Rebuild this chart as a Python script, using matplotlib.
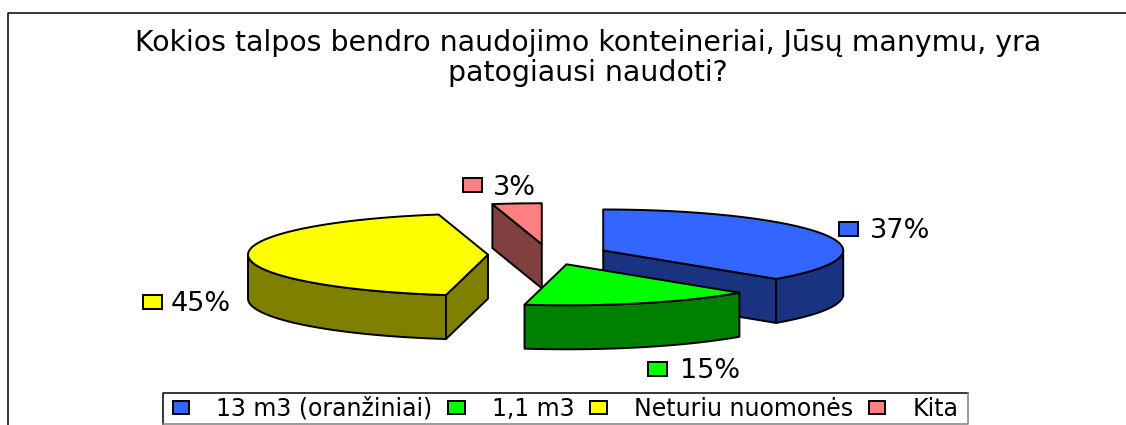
import numpy as np
from matplotlib import pyplot as plt
from matplotlib.patches import Patch, Polygon, Rectangle

title = "Kokios talpos bendro naudojimo konteineriai, Jūsų manymu, yra\npatogiausi naudoti?"
categories = ["13 m3 (oranžiniai)", "1,1 m3", "Neturiu nuomonės", "Kita"]
values = [37.2, 15.6, 43.9, 3.3]
labels = ["37%", "15%", "45%", "3%"]
top_colors = ["#3366FF", "#00FF00", "#FFFF00", "#FF8080"]
side_colors = ["#1A3380", "#008000", "#808000", "#804040"]

# the picture is laid out in pixels
W, H = 1126, 425
FONT = "DejaVu Sans"
LW = 1.4
CX, CY = 548, 254.5
RX, RY = 240, 41
EX, EY = 60, 10.3
DEPTH = 44

fig = plt.figure(figsize=(W / 100, H / 100), dpi=100)
ax = fig.add_axes([0, 0, 1, 1])
ax.set_xlim(0, W)
ax.set_ylim(H, 0)
ax.axis("off")

# frame of the chart, cut off by the picture on right and bottom
ax.plot([8, 8, W], [H, 12.5, 12.5], color="black", lw=1.1)

ax.text(588, 58, title, ha="center", va="center", fontsize=20.4, family=FONT,
        linespacing=1.12)


def arc(ax0, ay0, a0, a1, n=80):
    t = np.radians(np.linspace(a0, a1, n))
    return np.column_stack([ax0 + RX * np.sin(t), ay0 - RY * np.cos(t)])


# angles run clockwise from 12 o'clock
edges = np.cumsum([0] + values) / sum(values) * 360
slices = []
for i in range(len(values)):
    a0, a1 = edges[i], edges[i + 1]
    mid = np.radians((a0 + a1) / 2)
    slices.append((i, a0, a1, CX + EX * np.sin(mid), CY - EY * np.cos(mid)))

# back slices first
for i, a0, a1, x0, y0 in [slices[j] for j in (3, 0, 2, 1)]:
    style = dict(edgecolor="black", lw=LW, joinstyle="round")
    down = np.array([0, DEPTH])
    apex = np.array([x0, y0])
    # flat cut faces that look towards the viewer
    for a, seen in ((a0, np.sin(np.radians(a0)) < -1e-6), (a1, np.sin(np.radians(a1)) > 1e-6)):
        if seen:
            p = arc(x0, y0, a, a, 1)[0]
            ax.add_patch(Polygon([apex, p, p + down, apex + down], facecolor=side_colors[i], **style))
    # rim, only the front half of the ellipse
    f0, f1 = max(a0, 90), min(a1, 270)
    if f1 > f0:
        rim = arc(x0, y0, f0, f1)
        ax.add_patch(Polygon(np.vstack([rim, rim[::-1] + down]), facecolor=side_colors[i], **style))
    ax.add_patch(Polygon(np.vstack([apex, arc(x0, y0, a0, a1)]), facecolor=top_colors[i], **style))

# data labels with their keys
label_keys = [(839, 222), (648, 362), (143, 295), (463, 178)]
label_text = [(870, 231), (680, 371), (171, 304), (493, 188)]
for i in range(len(labels)):
    ax.add_patch(Rectangle(label_keys[i], 19, 13.5, facecolor=top_colors[i], edgecolor="black", lw=LW))
    ax.text(label_text[i][0], label_text[i][1], labels[i], ha="left", va="center",
            fontsize=19.5, family=FONT)

# legend frame: black top and left, greyer right and bottom as in the picture
ax.plot([163, 163, 968], [424, 392.5, 392.5], color="black", lw=1.1)
ax.plot([968, 968, 163], [392.5, 424, 424], color="#808080", lw=1.1)

handles = [Patch(facecolor=c, edgecolor="black", lw=LW) for c in top_colors]
leg = ax.legend(handles, categories, loc="upper left", bbox_to_anchor=(168 / W, 1 - 392 / H), ncol=4,
                prop={"family": FONT, "size": 17}, frameon=False,
                handlelength=0.7, handleheight=0.5, handletextpad=1.15, columnspacing=0.66,
                borderpad=0.2, borderaxespad=0)

fig.savefig("out.png", dpi=100)
